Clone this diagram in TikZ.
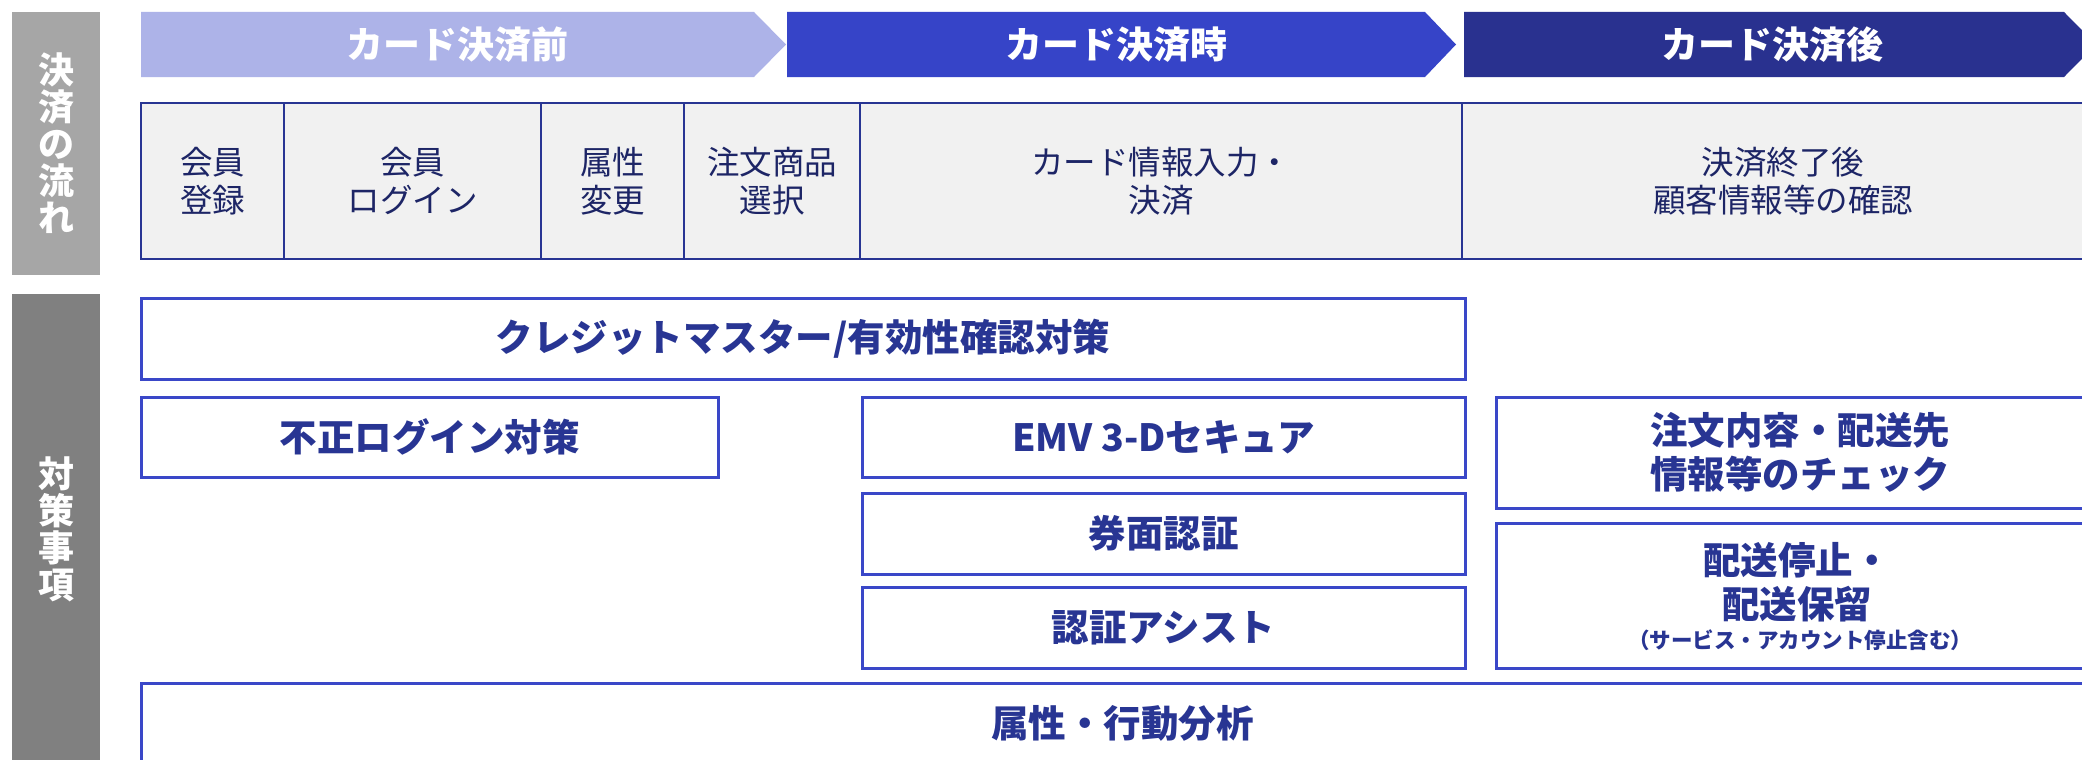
\documentclass[tikz,border=0pt]{standalone}
\usepackage{fontspec}
\setmainfont{Noto Sans CJK JP}
\definecolor{navy}{HTML}{283593}
\definecolor{mblue}{HTML}{3A47C8}
\definecolor{arrowA}{HTML}{ADB3E8}
\definecolor{arrowB}{HTML}{3644C8}
\definecolor{arrowC}{HTML}{29318F}
\definecolor{cellgray}{HTML}{F1F1F1}
\definecolor{celltext}{HTML}{1D2566}
\definecolor{grayA}{HTML}{A6A6A6}
\definecolor{grayB}{HTML}{808080}
\tikzset{
  sidebar/.style={text=white, inner sep=0pt, align=center, font=\fontsize{36}{37}\selectfont\bfseries},
  phaselabel/.style={text=white, inner sep=0pt, font=\fontsize{37}{44}\selectfont\bfseries},
  flowcell/.style={draw=navy, line width=2.5pt, fill=cellgray, text=celltext, inner sep=0pt, align=center, minimum height=156pt, font=\fontsize{32.5}{38}\selectfont},
  measure/.style={draw=mblue, line width=3pt, fill=white, text=navy, inner sep=0pt, align=center, font=\fontsize{37.5}{44}\selectfont\bfseries},
  measuretext/.style={text=navy, inner sep=0pt, align=center, font=\fontsize{37.5}{44}\selectfont\bfseries},
}
\begin{document}
\begin{tikzpicture}[x=1pt,y=-1pt]
\clip (0,0) rectangle (2082,760);
\fill[white] (0,0) rectangle (2082,760);

% side bars
\node[sidebar, fill=grayA, minimum width=88pt, minimum height=263pt] (flowbar) at (56,143.5) {決\\済\\の\\流\\れ};
\node[sidebar, fill=grayB, minimum width=88pt, minimum height=470pt] (measurebar) at (56,529) {対\\策\\事\\項};

% phase arrows
\fill[arrowA] (141,12) -- (754,12) -- (786,44.5) -- (754,77) -- (141,77) -- cycle;
\fill[arrowB] (787,12) -- (1425,12) -- (1456,44.5) -- (1425,77) -- (787,77) -- cycle;
\fill[arrowC] (1464,12) -- (2064,12) -- (2096,44.5) -- (2064,77) -- (1464,77) -- cycle;
\node[phaselabel] (phase1) at (457,44.5) {カード決済前};
\node[phaselabel] (phase2) at (1116,44.5) {カード決済時};
\node[phaselabel] (phase3) at (1772,44.5) {カード決済後};

% flow table
\node[flowcell, minimum width=143pt] (c1) at (212.5,181) {会員\\登録};
\node[flowcell, minimum width=257pt] (c2) at (412.5,181) {会員\\ログイン};
\node[flowcell, minimum width=143pt] (c3) at (612.5,181) {属性\\変更};
\node[flowcell, minimum width=176pt] (c4) at (772,181) {注文商品\\選択};
\node[flowcell, minimum width=602pt] (c5) at (1161,181) {カード情報入力・\\決済};
\node[flowcell, minimum width=642pt] (c6) at (1783,181) {決済終了後\\顧客情報等の確認};

% measures
\node[measure, minimum width=1324pt, minimum height=81pt] (credit) at (803,338.5) {クレジットマスター/有効性確認対策};
\node[measure, minimum width=577pt, minimum height=80pt] (login) at (429.5,437) {不正ログイン対策};
\node[measure, minimum width=603pt, minimum height=80pt] (emv) at (1163.5,437) {EMV 3-Dセキュア};
\node[measure, minimum width=603pt, minimum height=81pt] (kenmen) at (1163.5,533.5) {券面認証};
\node[measure, minimum width=603pt, minimum height=81pt] (assist) at (1163.5,627.5) {認証アシスト};
\node[measure, minimum width=608pt, minimum height=111pt] (order) at (1800,452.5) {注文内容・配送先\\情報等のチェック};
\node[measure, minimum width=608pt, minimum height=145pt] (stop) at (1800,595.5) {};
\node[measuretext] (stopmain) at (1797,582.5) {配送停止・\\配送保留};
\node[measuretext, font=\fontsize{21.5}{24}\selectfont\bfseries] (stopnote) at (1800,640) {（サービス・アカウント停止含む）};
\node[measure, minimum width=1963pt, minimum height=81pt] (behav) at (1122.5,723.5) {属性・行動分析};
\end{tikzpicture}
\end{document}
